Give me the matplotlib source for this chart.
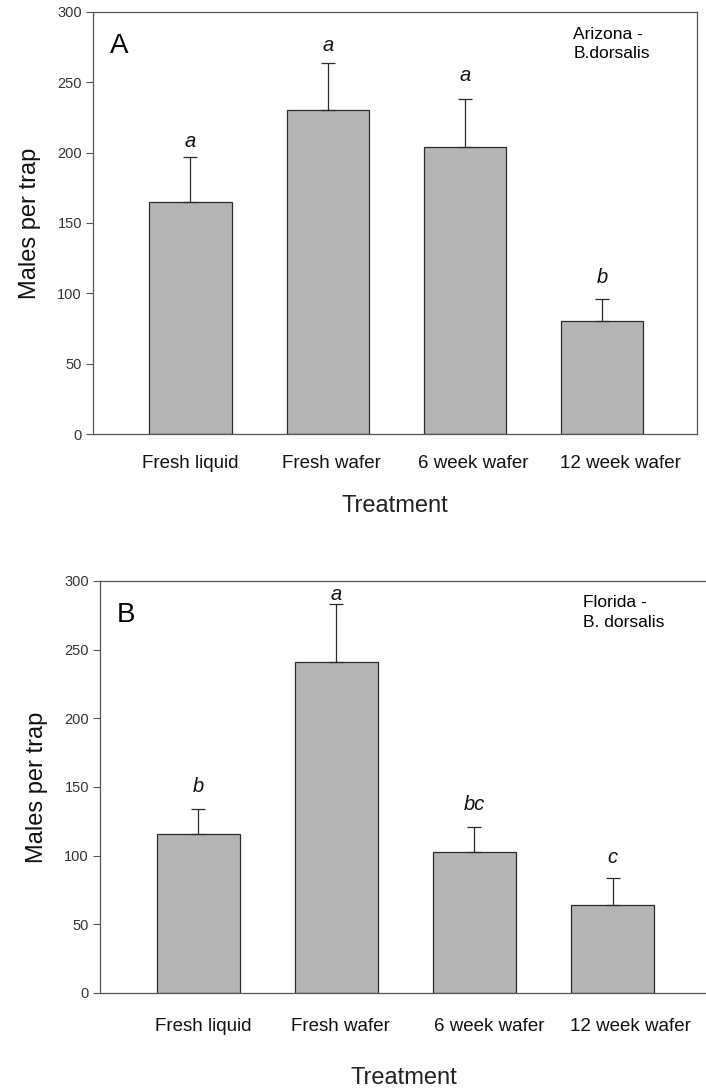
import matplotlib
matplotlib.use("Agg")
import matplotlib.pyplot as plt
import numpy as np

plt.rcParams['font.family'] = ['Liberation Sans', 'DejaVu Sans']

categories = ["Fresh liquid", "Fresh wafer", "6 week wafer", "12 week wafer"]

az_means = [165, 230, 204, 80]
az_se = [32, 34, 34, 16]
az_letters = ["a", "a", "a", "b"]

fl_means = [116, 241, 103, 64]
fl_se = [18, 42, 18, 20]
fl_letters = ["b", "a", "bc", "c"]

yticks = [0, 50, 100, 150, 200, 250, 300]

fig = plt.figure(figsize=(7.06, 10.90), dpi=100)

ax1 = fig.add_axes([93/706, 1-434/1090, 604/706, 422/1090])
ax2 = fig.add_axes([100/706, 1-993/1090, 608/706, 412/1090])

bar_color = "#b4b4b4"
edge = "#2a2a2a"
spine_c = "#555555"

def draw(ax, means, se, letters, panel, site, letter_offsets, label_shift,
         right_spine=True, tick_pad=15, xlab_pad=17):
    x = np.arange(len(categories))
    ax.bar(x, means, width=0.6, color=bar_color, edgecolor=edge, linewidth=0.9, zorder=2)
    ax.errorbar(x, means, yerr=[np.zeros(len(se)), se], fmt='none', ecolor=edge,
                elinewidth=0.9, capsize=5, capthick=0.9, zorder=3)
    for xi, m, s, l, off in zip(x, means, se, letters, letter_offsets):
        ax.annotate(l, (xi, m + s), xytext=(0, off), textcoords='offset points',
                    ha='center', va='bottom', fontsize=14.5, style='italic', color='#111111')
    ax.set_xlim(-0.71, 3.69)
    ax.set_ylim(0, 300)
    ax.set_yticks(yticks)
    ax.tick_params(axis='y', direction='out', length=5, width=0.8, color=spine_c,
                   labelsize=10.5, labelcolor='#333333', pad=3)
    ax.set_xticks(x + np.array(label_shift))
    ax.set_xticklabels(categories, fontsize=13.5, color='#111111')
    ax.tick_params(axis='x', length=0, pad=tick_pad)
    for sp in ax.spines.values():
        sp.set_color(spine_c)
        sp.set_linewidth(0.9)
    ax.spines['right'].set_visible(right_spine)
    ax.set_ylabel("Males per trap", fontsize=17, color='#111111', labelpad=12)
    ax.set_xlabel("Treatment", fontsize=17, color='#222222', labelpad=xlab_pad)
    ax.text(0.028, 0.95, panel, transform=ax.transAxes, fontsize=20, va='top', ha='left')
    ax.text(0.795, 0.965, site, transform=ax.transAxes, fontsize=12.5, va='top', ha='left',
            linespacing=1.35)

draw(ax1, az_means, az_se, az_letters, "A", "Arizona -\nB.dorsalis", [4, 5.5, 10, 8.5],
     [0.0, 0.03, 0.06, 0.13], tick_pad=15, xlab_pad=17)
draw(ax2, fl_means, fl_se, fl_letters, "B", "Florida -\nB. dorsalis", [9, 0, 9, 8],
     [0.04, 0.03, 0.11, 0.13], right_spine=False, tick_pad=18, xlab_pad=23)

fig.savefig("out.png", dpi=100)
